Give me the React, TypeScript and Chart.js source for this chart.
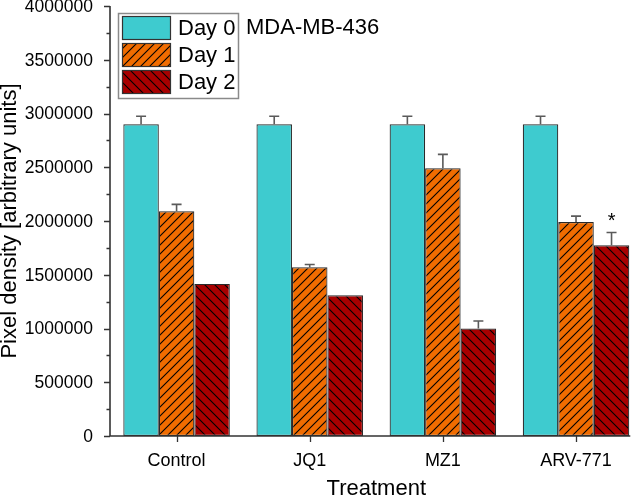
import React, { useEffect, useRef } from 'react';
import { Chart, registerables } from 'chart.js';

Chart.register(...registerables);

// ---- Data ----
const categories = ['Control', 'JQ1', 'MZ1', 'ARV-771'];
const seriesNames = ['Day 0', 'Day 1', 'Day 2'];
const day0 = [2900000, 2900000, 2900000, 2900000];
const day0Err = [75000, 75000, 75000, 75000];
const day1 = [2090000, 1570000, 2490000, 1990000];
const day1Err = [65000, 25000, 130000, 55000];
const day2 = [1415000, 1310000, 1000000, 1775000];
const day2Err = [0, 0, 70000, 118000];
const yTickLabels = [0, 500000, 1000000, 1500000, 2000000, 2500000, 3000000, 3500000, 4000000];
const yMinorTicks = [250000, 750000, 1250000, 1750000, 2250000, 2750000, 3250000, 3750000];
const chartLabel = 'MDA-MB-436';
const sigSeries = 2;
const sigIndex = 3;
const sigMark = '*';

const values = [day0, day1, day2];
const errors = [day0Err, day1Err, day2Err];

const FONT = "'Liberation Sans', Arial, sans-serif";
const C0 = '#3ECBCF';
const C1 = '#F06C00';
const C2 = '#A80000';

function makeHatch(bg: string, forward: boolean, size: number): CanvasPattern | string {
  const c = document.createElement('canvas');
  c.width = size;
  c.height = size;
  const g = c.getContext('2d');
  if (!g) return bg;
  g.fillStyle = bg;
  g.fillRect(0, 0, size, size);
  g.strokeStyle = '#000';
  g.lineWidth = 1.1;
  g.beginPath();
  if (forward) {
    g.moveTo(-1, size + 1); g.lineTo(size + 1, -1);
    g.moveTo(-1, 1); g.lineTo(1, -1);
    g.moveTo(size - 1, size + 1); g.lineTo(size + 1, size - 1);
  } else {
    g.moveTo(-1, -1); g.lineTo(size + 1, size + 1);
    g.moveTo(size - 1, -1); g.lineTo(size + 1, 1);
    g.moveTo(-1, size - 1); g.lineTo(1, size + 1);
  }
  g.stroke();
  const p = g.createPattern(c, 'repeat');
  return p || bg;
}

export default function App() {
  const ref = useRef<HTMLCanvasElement | null>(null);

  useEffect(() => {
    if (!ref.current) return;
    const fills = [C0, makeHatch(C1, true, 9), makeHatch(C2, false, 10)];

    const overlay = {
      id: 'overlay',
      afterDraw(chart: any) {
        const ctx = chart.ctx as CanvasRenderingContext2D;
        const { left, top, bottom } = chart.chartArea;
        const xs = chart.scales.x;
        const ys = chart.scales.y;
        ctx.save();

        // error bars
        chart.data.datasets.forEach((_ds: any, di: number) => {
          const meta = chart.getDatasetMeta(di);
          meta.data.forEach((bar: any, i: number) => {
            const e = errors[di][i];
            if (!e) return;
            const v = values[di][i];
            const x = bar.x;
            const y0 = ys.getPixelForValue(v);
            const y1 = ys.getPixelForValue(v + e);
            ctx.strokeStyle = '#5a5a5a';
            ctx.lineWidth = 1.6;
            ctx.beginPath();
            ctx.moveTo(x, y0);
            ctx.lineTo(x, y1);
            ctx.moveTo(x - 5, y1);
            ctx.lineTo(x + 5, y1);
            ctx.stroke();
          });
        });

        // significance mark
        {
          const bar = chart.getDatasetMeta(sigSeries).data[sigIndex];
          const yTopVal = values[sigSeries][sigIndex] + errors[sigSeries][sigIndex];
          const y = ys.getPixelForValue(yTopVal);
          ctx.fillStyle = '#000';
          ctx.font = `20px ${FONT}`;
          ctx.textAlign = 'center';
          ctx.textBaseline = 'alphabetic';
          ctx.fillText(sigMark, bar.x, y - 6);
        }

        // axes
        const catW = xs.getPixelForValue(1) - xs.getPixelForValue(0);
        const xEnd = xs.getPixelForValue(categories.length - 1) + catW * 0.4 + 1;
        ctx.strokeStyle = '#333';
        ctx.lineWidth = 1.6;
        ctx.beginPath();
        ctx.moveTo(left, top);
        ctx.lineTo(left, bottom);
        ctx.lineTo(xEnd, bottom);
        ctx.stroke();

        ctx.lineWidth = 1.3;
        ctx.beginPath();
        yTickLabels.forEach((v) => {
          const y = Math.round(ys.getPixelForValue(v)) + 0.5;
          ctx.moveTo(left, y);
          ctx.lineTo(left - 6, y);
        });
        yMinorTicks.forEach((v) => {
          const y = Math.round(ys.getPixelForValue(v)) + 0.5;
          ctx.moveTo(left, y);
          ctx.lineTo(left - 3.5, y);
        });
        categories.forEach((_c, i) => {
          const x = Math.round(xs.getPixelForValue(i)) + 0.5;
          ctx.moveTo(x, bottom);
          ctx.lineTo(x, bottom + 6);
        });
        ctx.stroke();

        // y tick labels
        ctx.fillStyle = '#000';
        ctx.font = `17.5px ${FONT}`;
        ctx.textAlign = 'right';
        ctx.textBaseline = 'middle';
        yTickLabels.forEach((v) => {
          ctx.fillText(String(v), left - 17, ys.getPixelForValue(v) + 1);
        });

        // x title
        ctx.font = `22px ${FONT}`;
        ctx.textAlign = 'center';
        ctx.textBaseline = 'alphabetic';
        ctx.fillText('Treatment', (left + chart.chartArea.right) / 2, 495);

        // legend
        ctx.strokeStyle = '#8a8a8a';
        ctx.lineWidth = 1.5;
        ctx.strokeRect(118.5, 13.5, 120, 85);
        seriesNames.forEach((name, i) => {
          const sy = 16 + i * 27;
          ctx.fillStyle = fills[i] as any;
          ctx.fillRect(122, sy, 49, 24);
          ctx.strokeStyle = '#333';
          ctx.lineWidth = 1.2;
          ctx.strokeRect(122.5, sy + 0.5, 48, 23);
          ctx.fillStyle = '#000';
          ctx.font = `22px ${FONT}`;
          ctx.textAlign = 'left';
          ctx.textBaseline = 'middle';
          ctx.fillText(name, 178, sy + 13);
        });

        // chart label
        ctx.font = `22px ${FONT}`;
        ctx.textAlign = 'left';
        ctx.textBaseline = 'middle';
        ctx.fillText(chartLabel, 246, 28);

        ctx.restore();
      },
    };

    const chart = new Chart(ref.current, {
      type: 'bar',
      data: {
        labels: categories,
        datasets: seriesNames.map((name, i) => ({
          label: name,
          data: values[i],
          backgroundColor: fills[i] as any,
          borderColor: '#2a2a2a',
          borderWidth: 1.2,
          borderSkipped: false,
          categoryPercentage: 0.8,
          barPercentage: 1.0,
        })),
      },
      options: {
        responsive: false,
        animation: false,
        devicePixelRatio: 1,
        layout: { padding: { top: 6, right: 1.4, bottom: 0, left: 0 } },
        plugins: {
          legend: { display: false },
          tooltip: { enabled: false },
        },
        scales: {
          x: {
            type: 'category',
            offset: true,
            grid: { display: false, drawTicks: false },
            border: { display: false },
            ticks: {
              color: '#000',
              font: { family: FONT, size: 18 },
              padding: 14,
              maxRotation: 0,
              autoSkip: false,
            },
            afterFit: (scale: any) => { scale.height = 63; },
          },
          y: {
            min: 0,
            max: 4000000,
            grid: { display: false, drawTicks: false },
            border: { display: false },
            ticks: { display: false, stepSize: 500000 },
            title: {
              display: true,
              text: 'Pixel density [arbitrary units]',
              color: '#000',
              font: { family: FONT, size: 22, lineHeight: 0.9 },
              padding: { top: 0, bottom: 0 },
            },
            afterFit: (scale: any) => { scale.width = 110; },
          },
        },
      },
      plugins: [overlay],
    });

    return () => chart.destroy();
  }, []);

  return (
    <div style={{ position: 'absolute', left: 0, top: 0, width: 644, height: 499, background: '#fff' }}>
      <canvas ref={ref} width={644} height={499} style={{ display: 'block', width: 644, height: 499 }} />
    </div>
  );
}
